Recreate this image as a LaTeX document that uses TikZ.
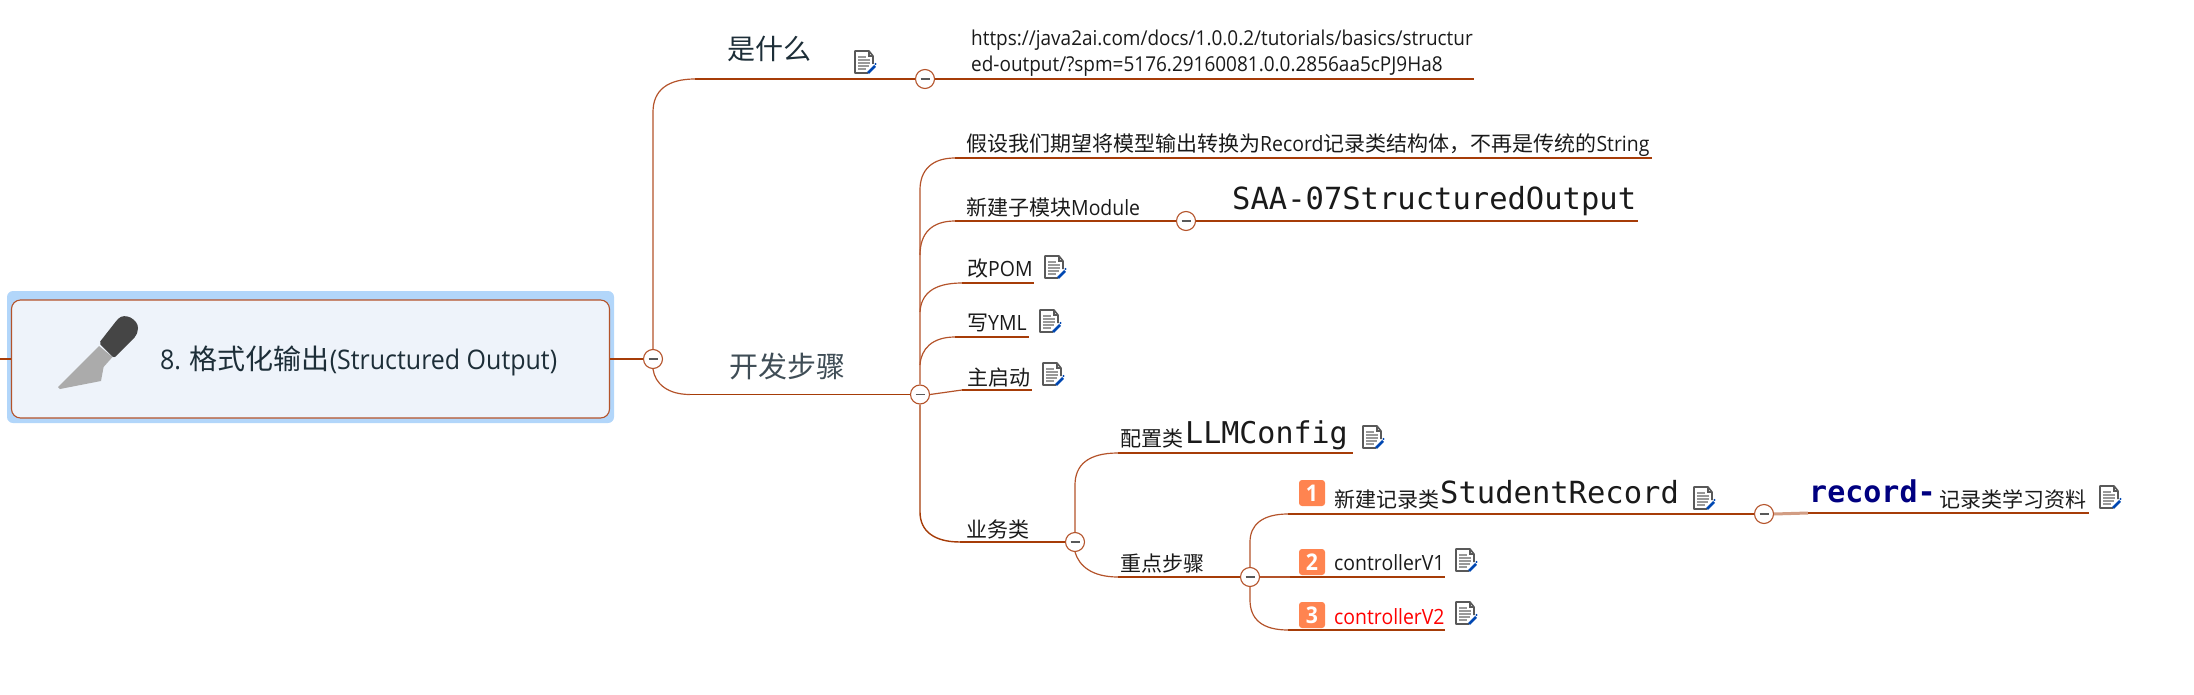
\documentclass[tikz,border=0pt]{standalone}
\usepackage{fontspec}
\setmainfont[FakeStretch=0.925]{Open Sans}
\newfontfamily\cjkf{Noto Sans CJK SC}
\newfontfamily\monof{DejaVu Sans Mono}
\newcommand\cn[1]{{\cjkf\fontsize{21}{21}\selectfont #1}}
\newcommand\fs[1]{\fontsize{#1}{#1}\selectfont}
\definecolor{brn}{HTML}{A63C08}
\definecolor{brnl}{HTML}{B4532A}
\definecolor{ink}{HTML}{1D2E38}
\definecolor{txt}{HTML}{1A1A1A}
\definecolor{badge}{HTML}{FF8450}
\definecolor{halo}{HTML}{B2D6FA}
\definecolor{panel}{HTML}{EEF3FA}
\tikzset{
  x=1pt,y=-1pt,
  lbl/.style={anchor=base west,inner sep=0pt,text=txt,font=\fs{21}},
  mon/.style={anchor=base west,inner sep=0pt,text=txt,font=\monof\fs{30.5}},
  fold/.style={circle,draw=brnl,fill=white,line width=1.1pt,minimum size=19pt,inner sep=0pt,
    path picture={\draw[line width=1.4pt,color=black!65] ([xshift=-4.5pt]path picture bounding box.center) -- ([xshift=4.5pt]path picture bounding box.center);}},
  branch/.style={draw=brn,line width=1.4pt},
  curve/.style={draw=brnl,line width=1.2pt},
  num/.style={fill=badge,rounded corners=3pt,minimum size=26pt,inner sep=0pt,text=white,font=\bfseries\fs{23}},
  notepic/.pic={
    \fill[white] (-10,-11) -- (5,-11) -- (10,-6) -- (10,11) -- (-10,11) -- cycle;
    \draw[color=black!65,line width=1.6pt,line join=round] (8,2) -- (8,-6) -- (4,-11) -- (-10,-11) -- (-10,11) -- (3,11);
    \draw[color=black!65,line width=1.1pt] (4,-11) -- (4,-6) -- (8,-6);
    \foreach \yy/\xx in {-5/1,-2/5,1/5,4/4,7/1}{\draw[color=black!40,line width=1.4pt] (-7,\yy) -- (\xx,\yy);}
    \draw[color=blue!60!cyan!70!black,line width=2.6pt] (3,11) -- (10,4);
    \fill[color=blue!60!cyan!70!black] (10.5,2) circle (1.2);
  }
}
\begin{document}
\begin{tikzpicture}
\useasboundingbox (0,0) rectangle (2194,695);
% root
\node[fill=halo,rounded corners=6pt,minimum width=607pt,minimum height=132pt,inner sep=0pt] (rootb) at (310.5,357) {};
\node[draw=brnl,fill=panel,line width=1.1pt,rounded corners=9pt,minimum width=598pt,minimum height=118pt,inner sep=0pt] (root) at (310.5,359) {};
\fill[color=black!33] (58,387) -- (99,346) -- (112.5,357) -- (103.6,367) -- (101,381) -- (60,389) -- cycle;
\fill[color=black!73,rounded corners=2pt] (99,343) -- (117,320) to[out=45,in=90,looseness=1.2] (138,330) -- (136,336) -- (114,358) -- cycle;
\node[anchor=base west,inner sep=0pt,text=ink,font=\fs{27}] (roott) at (160,369) {8. {\cjkf\fs{28}格式化输出}(Structured Output)};
\coordinate (ls) at (0,359);
\draw[branch] (ls) -- (root.west);

% fold circles
\node[fold] (c0) at (653,359) {};
\node[fold] (c1) at (925,79) {};
\node[fold] (c2) at (920,394.5) {};
\node[fold] (c3) at (1186,221) {};
\node[fold] (c4) at (1075,542) {};
\node[fold] (c5) at (1250,577) {};
\node[fold] (c6) at (1764,514) {};

\draw[branch] (root.east) -- (c0);
% level 1
\coordinate (e1) at (1474,79);
\draw[curve] (c0.north) -- (653,112) .. controls (653,90) and (668,79) .. (695,79);
\draw[branch] (695,79) -- (c1);
\draw[branch] (c1) -- (e1);
\draw[curve] (c0.south) .. controls (655,384) and (668,394.5) .. (690,394.5);
\draw[branch] (690,394.5) -- (c2);
% level 2
\coordinate (e2) at (1652,158);
\coordinate (e3) at (1638,221);
\coordinate (e4) at (1034,283);
\coordinate (e5) at (1029,337);
\coordinate (e6) at (1032,390);
\draw[curve] (c2.north) -- (920,190) .. controls (920,170) and (932,158) .. (955,158);
\draw[branch] (955,158) -- (e2);
\draw[curve] (920,255) .. controls (920,233) and (932,221) .. (955,221);
\draw[branch] (955,221) -- (c3);
\draw[branch] (c3) -- (e3);
\draw[curve] (920,312) .. controls (921,295) and (932,283) .. (962,283);
\draw[branch] (962,283) -- (e4);
\draw[curve] (920,365) .. controls (921,349) and (932,337) .. (955,337);
\draw[branch] (955,337) -- (e5);
\draw[curve] (c2.east) -- (962,390);
\draw[branch] (962,390) -- (e6);
\draw[branch] (c2.south) -- (920,512) .. controls (920,531) and (934,542) .. (960,542);
\draw[branch] (960,542) -- (c4);
% level 3
\coordinate (e7) at (1353,453);
\draw[curve] (c4.north) -- (1075,485) .. controls (1075,465) and (1088,453) .. (1118,453);
\draw[branch] (1118,453) -- (e7);
\draw[curve] (c4.south) .. controls (1079,566) and (1092,577) .. (1118,577);
\draw[branch] (1118,577) -- (c5);
% level 4
\coordinate (e8) at (1445,577);
\coordinate (e9) at (1445,630);
\coordinate (e10) at (2089,513);
\draw[curve] (c5.north) -- (1250,542) .. controls (1250,525) and (1262,514) .. (1288,514);
\draw[branch] (1288,514) -- (c6);
\draw[curve] (c5.east) -- (1290,577);
\draw[branch] (1290,577) -- (e8);
\draw[curve] (c5.south) -- (1250,600) .. controls (1250,619) and (1262,630) .. (1288,630);
\draw[branch] (1288,630) -- (e9);
\draw[draw=brn!50,line width=3pt] (c6.east) -- (1808,513);
\draw[branch] (1808,513) -- (e10);

% texts
\node[anchor=base west,inner sep=0pt,text=ink,font=\cjkf\fs{28}] (t1) at (727,60) {是什么};
\node[anchor=base west,inner sep=0pt,text=ink!85,font=\cjkf\fs{29}] (t2) at (729,377) {开发步骤};
\node[lbl,font=\fs{20.5}] (u1) at (971,46) {https://java2ai.com/docs/1.0.0.2/tutorials/basics/structur};
\node[lbl,font=\fs{20.5}] (u2) at (971,72) {ed-output/?spm=5176.29160081.0.0.2856aa5cPJ9Ha8};
\node[lbl] (n1) at (966,152) {\cn{假设我们期望将模型输出转换为}Record\cn{记录类结构体，不再是传统的}String};
\node[lbl] (n2) at (966,215) {\cn{新建子模块}Module};
\node[mon] (n3) at (1232,210) {SAA-07StructuredOutput};
\node[lbl] (n4) at (967,276) {\cn{改}POM};
\node[lbl] (n5) at (967,330) {\cn{写}YML};
\node[lbl] (n6) at (967,385) {\cn{主启动}};
\node[lbl] (n7) at (966,537) {\cn{业务类}};
\node[lbl] (n8) at (1120,446) {\cn{配置类}};
\node[mon,font=\monof\fs{30}] (n9) at (1185,443) {LLMConfig};
\node[lbl] (n10) at (1120,571) {\cn{重点步骤}};
\node[lbl] (n11) at (1334,507) {\cn{新建记录类}};
\node[mon] (n12) at (1440,503) {StudentRecord};
\node[mon,text={rgb,255:red,0;green,0;blue,128},font=\monof\bfseries\fs{30}] (n13) at (1809,502) {record-};
\node[lbl] (n14) at (1939,507) {\cn{记录类学习资料}};
\node[lbl] (n15) at (1334,570) {controllerV1};
\node[lbl,text=red] (n16) at (1334,624) {controllerV2};
\node[num] (b1) at (1312,493) {1};
\node[num] (b2) at (1312,562) {2};
\node[num] (b3) at (1312,615) {3};

% note icons
\pic at (865,62) {notepic};
\pic at (1055,267) {notepic};
\pic at (1050,321) {notepic};
\pic at (1053,374) {notepic};
\pic at (1373,437) {notepic};
\pic at (1704,498) {notepic};
\pic at (2110,497) {notepic};
\pic at (1466,560) {notepic};
\pic at (1466,613) {notepic};
\end{tikzpicture}
\end{document}
